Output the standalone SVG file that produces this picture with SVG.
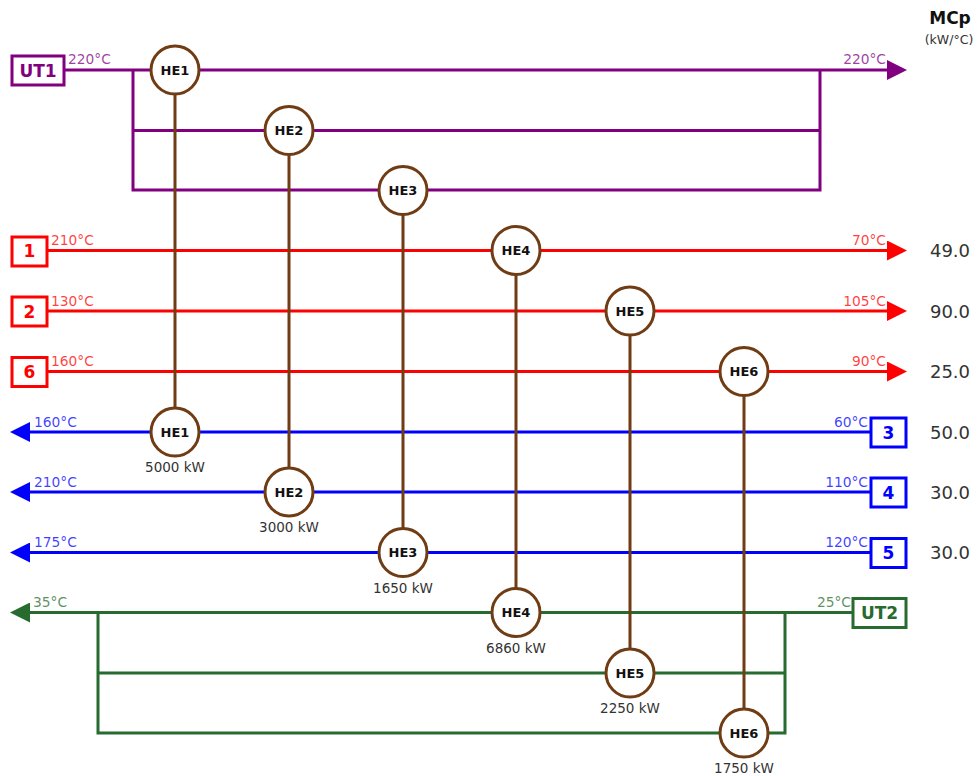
<svg xmlns="http://www.w3.org/2000/svg" width="978" height="776" viewBox="0 0 978 776">
<style>
text{font-family:"DejaVu Sans","Liberation Sans",sans-serif}
.s{fill:none;stroke-width:3}
.ut1{stroke:#800080}.hot{stroke:#ff0000}.cold{stroke:#0000ff}.ut2{stroke:#276b2e}
.box{fill:#fff;stroke-width:3}
.bl{font-size:17px;font-weight:bold;text-anchor:middle}
.t{font-size:13.8px;fill-opacity:0.75}
.te{font-size:13.8px;fill-opacity:0.75;text-anchor:end}
.he circle{fill:#fff;stroke:#703c14;stroke-width:3}
.he text{font-size:13px;font-weight:bold;text-anchor:middle;fill:#111}
.he text.duty{font-size:13.5px;font-weight:normal;fill:#333}
.mcp{font-size:18px;text-anchor:middle;fill:#333}
.link{stroke:#703c14;stroke-width:3;fill:none}
</style>
<defs>
<marker id="aP" markerWidth="20" markerHeight="20" refX="0" refY="10" orient="auto" markerUnits="userSpaceOnUse"><path d="M0,0 L20,10 L0,20 Z" fill="#800080"/></marker>
<marker id="aR" markerWidth="20" markerHeight="20" refX="0" refY="10" orient="auto" markerUnits="userSpaceOnUse"><path d="M0,0 L20,10 L0,20 Z" fill="#ff0000"/></marker>
<marker id="aB" markerWidth="20" markerHeight="20" refX="0" refY="10" orient="auto" markerUnits="userSpaceOnUse"><path d="M0,0 L20,10 L0,20 Z" fill="#0000ff"/></marker>
<marker id="aG" markerWidth="20" markerHeight="20" refX="0" refY="10" orient="auto" markerUnits="userSpaceOnUse"><path d="M0,0 L20,10 L0,20 Z" fill="#276b2e"/></marker>
</defs>

<text x="950" y="24" font-size="17" font-weight="bold" text-anchor="middle" fill="#111">MCp</text>
<text x="949" y="44" font-size="12.5" text-anchor="middle" fill="#333">(kW/°C)</text>

<g id="connectors">
  <path class="s ut1" d="M64,70 H887" marker-end="url(#aP)"/>
  <path class="s ut1" d="M133,70 V190 H820 V70 M133,130.5 H820"/>
  <path class="s hot" d="M47,250.5 H887" marker-end="url(#aR)"/>
  <path class="s hot" d="M47,311 H887" marker-end="url(#aR)"/>
  <path class="s hot" d="M47,371.5 H887" marker-end="url(#aR)"/>
  <path class="s cold" d="M871,432 H30" marker-end="url(#aB)"/>
  <path class="s cold" d="M871,492 H30" marker-end="url(#aB)"/>
  <path class="s cold" d="M871,552.5 H30" marker-end="url(#aB)"/>
  <path class="s ut2" d="M853,612.5 H30" marker-end="url(#aG)"/>
  <path class="s ut2" d="M98,612.5 V733 H785 V612.5 M98,673 H785"/>
  <path class="link" d="M175,70 V432"/>
  <path class="link" d="M289,130.5 V492"/>
  <path class="link" d="M403,190.5 V552.5"/>
  <path class="link" d="M516,250.5 V612.5"/>
  <path class="link" d="M630,311 V673"/>
  <path class="link" d="M744,371.5 V733"/>
</g>

<g id="UT1">
  <rect class="box ut1" x="12" y="56" width="52" height="29"/>
  <text class="bl" x="38" y="77" fill="#800080">UT1</text>
  <text class="t" x="68" y="64" fill="#800080">220°C</text>
  <text class="te" x="886" y="64" fill="#800080">220°C</text>
</g>
<g id="stream1">
  <rect class="box hot" x="12" y="237" width="35" height="29"/>
  <text class="bl" x="29.5" y="257" fill="#ff0000">1</text>
  <text class="t" x="51" y="245" fill="#ff0000">210°C</text>
  <text class="te" x="886" y="245" fill="#ff0000">70°C</text>
  <text class="mcp" x="950" y="257">49.0</text>
</g>
<g id="stream2">
  <rect class="box hot" x="12" y="297" width="35" height="29"/>
  <text class="bl" x="29.5" y="317.5" fill="#ff0000">2</text>
  <text class="t" x="51" y="305.5" fill="#ff0000">130°C</text>
  <text class="te" x="886" y="305.5" fill="#ff0000">105°C</text>
  <text class="mcp" x="950" y="317.5">90.0</text>
</g>
<g id="stream6">
  <rect class="box hot" x="12" y="357.5" width="35" height="29"/>
  <text class="bl" x="29.5" y="378" fill="#ff0000">6</text>
  <text class="t" x="51" y="366" fill="#ff0000">160°C</text>
  <text class="te" x="886" y="366" fill="#ff0000">90°C</text>
  <text class="mcp" x="950" y="378">25.0</text>
</g>
<g id="stream3">
  <rect class="box cold" x="871" y="418" width="35" height="29"/>
  <text class="bl" x="888.5" y="438.5" fill="#0000ff">3</text>
  <text class="t" x="34" y="426.5" fill="#0000ff">160°C</text>
  <text class="te" x="868" y="426.5" fill="#0000ff">60°C</text>
  <text class="mcp" x="950" y="438.5">50.0</text>
</g>
<g id="stream4">
  <rect class="box cold" x="871" y="478" width="35" height="29"/>
  <text class="bl" x="888.5" y="498.5" fill="#0000ff">4</text>
  <text class="t" x="34" y="486.5" fill="#0000ff">210°C</text>
  <text class="te" x="868" y="486.5" fill="#0000ff">110°C</text>
  <text class="mcp" x="950" y="498.5">30.0</text>
</g>
<g id="stream5">
  <rect class="box cold" x="871" y="538.5" width="35" height="29"/>
  <text class="bl" x="888.5" y="559" fill="#0000ff">5</text>
  <text class="t" x="34" y="547" fill="#0000ff">175°C</text>
  <text class="te" x="868" y="547" fill="#0000ff">120°C</text>
  <text class="mcp" x="950" y="559">30.0</text>
</g>
<g id="UT2">
  <rect class="box ut2" x="853" y="598.5" width="53" height="29"/>
  <text class="bl" x="879.5" y="619" fill="#276b2e">UT2</text>
  <text class="t" x="33" y="607" fill="#276b2e">35°C</text>
  <text class="te" x="851" y="607" fill="#276b2e">25°C</text>
</g>

<g id="HE1-hot" class="he"><circle cx="175" cy="70" r="24"/><text x="175" y="74.5">HE1</text></g>
<g id="HE2-hot" class="he"><circle cx="289" cy="130.5" r="24"/><text x="289" y="135">HE2</text></g>
<g id="HE3-hot" class="he"><circle cx="403" cy="190.5" r="24"/><text x="403" y="195">HE3</text></g>
<g id="HE4-hot" class="he"><circle cx="516" cy="250.5" r="24"/><text x="516" y="255">HE4</text></g>
<g id="HE5-hot" class="he"><circle cx="630" cy="311" r="24"/><text x="630" y="315.5">HE5</text></g>
<g id="HE6-hot" class="he"><circle cx="744" cy="371.5" r="24"/><text x="744" y="376">HE6</text></g>

<g id="HE1-cold" class="he"><circle cx="175" cy="432" r="24"/><text x="175" y="436.5">HE1</text><text class="duty" x="175" y="472">5000 kW</text></g>
<g id="HE2-cold" class="he"><circle cx="289" cy="492" r="24"/><text x="289" y="496.5">HE2</text><text class="duty" x="289" y="532">3000 kW</text></g>
<g id="HE3-cold" class="he"><circle cx="403" cy="552.5" r="24"/><text x="403" y="557">HE3</text><text class="duty" x="403" y="592.5">1650 kW</text></g>
<g id="HE4-cold" class="he"><circle cx="516" cy="612.5" r="24"/><text x="516" y="617">HE4</text><text class="duty" x="516" y="652.5">6860 kW</text></g>
<g id="HE5-cold" class="he"><circle cx="630" cy="673" r="24"/><text x="630" y="677.5">HE5</text><text class="duty" x="630" y="713">2250 kW</text></g>
<g id="HE6-cold" class="he"><circle cx="744" cy="733" r="24"/><text x="744" y="737.5">HE6</text><text class="duty" x="744" y="773">1750 kW</text></g>
</svg>
